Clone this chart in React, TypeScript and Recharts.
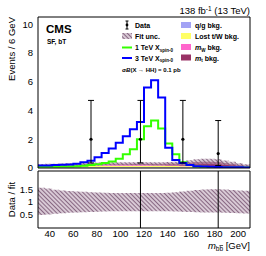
import React from 'react';
import { ComposedChart, Line, Area, Scatter, ErrorBar, XAxis, YAxis } from 'recharts';

// m_bb bins, 6 GeV wide
const binLow = [30, 36, 42, 48, 54, 60, 66, 72, 78, 84, 90, 96, 102, 108, 114, 120, 126, 132, 138, 144, 150, 156, 162, 168, 174, 180, 186, 192, 198, 204];
const binWidth = 6;

const qgBkg = [0.05, 0.05, 0.05, 0.05, 0.05, 0.05, 0.05, 0.05, 0.05, 0.05, 0.05, 0.05, 0.05, 0.05, 0.05, 0.05, 0.05, 0.05, 0.05, 0.05, 0.05, 0.05, 0.05, 0.05, 0.05, 0.05, 0.04, 0.04, 0.04, 0.04];
const lostTWBkg = [0.06, 0.07, 0.07, 0.08, 0.08, 0.09, 0.09, 0.1, 0.1, 0.1, 0.11, 0.11, 0.11, 0.11, 0.11, 0.1, 0.1, 0.1, 0.09, 0.09, 0.08, 0.08, 0.07, 0.07, 0.06, 0.06, 0.05, 0.05, 0.05, 0.04];
const mWBkg = [0.03, 0.03, 0.04, 0.04, 0.05, 0.05, 0.06, 0.06, 0.07, 0.07, 0.07, 0.06, 0.06, 0.05, 0.05, 0.05, 0.04, 0.04, 0.04, 0.03, 0.03, 0.03, 0.03, 0.02, 0.02, 0.02, 0.02, 0.02, 0.02, 0.02];
const mtBkg = [0.04, 0.04, 0.04, 0.05, 0.05, 0.05, 0.06, 0.06, 0.06, 0.07, 0.07, 0.07, 0.08, 0.08, 0.08, 0.09, 0.1, 0.11, 0.13, 0.15, 0.18, 0.22, 0.26, 0.29, 0.3, 0.28, 0.24, 0.18, 0.12, 0.08];

// relative fit uncertainty (data / fit band)
const fitUncLo = [0.5, 0.52, 0.55, 0.57, 0.59, 0.6, 0.61, 0.62, 0.63, 0.64, 0.65, 0.65, 0.65, 0.65, 0.65, 0.65, 0.65, 0.65, 0.65, 0.64, 0.63, 0.62, 0.61, 0.6, 0.6, 0.6, 0.59, 0.58, 0.57, 0.56];
const fitUncHi = [1.55, 1.52, 1.48, 1.45, 1.43, 1.41, 1.4, 1.38, 1.37, 1.36, 1.35, 1.35, 1.35, 1.35, 1.35, 1.35, 1.35, 1.35, 1.36, 1.38, 1.41, 1.44, 1.47, 1.49, 1.5, 1.5, 1.49, 1.47, 1.45, 1.44];

const signal1TeV = [0.08, 0.08, 0.09, 0.1, 0.11, 0.13, 0.16, 0.2, 0.26, 0.34, 0.45, 0.65, 0.95, 1.3, 2.0, 2.9, 3.3, 2.75, 1.7, 0.95, 0.4, 0.2, 0.1, 0.08, 0.06, 0.05, 0.05, 0.04, 0.04, 0.03];
const signal3TeV = [0.18, 0.18, 0.2, 0.22, 0.25, 0.3, 0.4, 0.5, 0.75, 1.05, 1.35, 1.75, 2.2, 2.7, 3.2, 5.6, 6.1, 4.9, 1.4, 0.55, 0.35, 0.2, 0.12, 0.1, 0.08, 0.07, 0.06, 0.05, 0.05, 0.04];

const dataMass = [75, 117, 153, 183];
const dataCount = [2, 2, 2, 1];
const dataErrLo = [1.65, 1.65, 1.65, 0.83];
const dataErrHi = [2.7, 2.7, 2.7, 2.3];

// data / fit points, only the error bars fall inside the panel
const ratioMass = [117, 183];
const ratioLo = [0, 0];
const ratioHi = [2.2, 2.2];

const xMajor = [40, 60, 80, 100, 120, 140, 160, 180, 200];
const xMinor = Array.from({ length: 45 }, (_, i) => 32 + i * 4);
const mainMajor = [0, 2, 4, 6, 8, 10];
const mainMinor = Array.from({ length: 22 }, (_, i) => i * 0.5);
const ratioMajor = [0.5, 1, 1.5];
const ratioMinor = Array.from({ length: 23 }, (_, i) => i / 10);

const edges = [...binLow, binLow[binLow.length - 1] + binWidth];
const stepRows = edges.map((x, i) => {
  const k = Math.min(i, binLow.length - 1);
  const total = qgBkg[k] + lostTWBkg[k] + mWBkg[k] + mtBkg[k];
  return {
    x,
    qg: qgBkg[k],
    lost: lostTWBkg[k],
    mw: mWBkg[k],
    mt: mtBkg[k],
    unc: [total * fitUncLo[k], total * fitUncHi[k]],
    band: [fitUncLo[k], fitUncHi[k]],
    s1: signal1TeV[k],
    s3: signal3TeV[k],
  };
});

const dataPoints = dataMass.map((x, i) => ({ x, y: dataCount[i], err: [dataErrLo[i], dataErrHi[i]] }));
const ratioPoints = ratioMass.map((x, i) => ({
  x,
  y: (ratioLo[i] + ratioHi[i]) / 2,
  err: [(ratioHi[i] - ratioLo[i]) / 2, (ratioHi[i] - ratioLo[i]) / 2],
}));

const FONT = '"Liberation Sans", Arial, Helvetica, sans-serif';
const X_DOMAIN: [number, number] = [30, 210];
const tickFont = { fontSize: 9.5, fill: '#000', fontFamily: FONT };

// inward ROOT-style ticks on all four sides; labelX puts the numbers on the primary x axis
function frameAxes(yMajor: number[], yMinor: number[], yDomain: [number, number], labelX: boolean) {
  const c = { allowDataOverflow: true, tick: false as const, stroke: '#000', interval: 0 as const, mirror: true };
  const primaryX = labelX ? (
    <XAxis key="x" xAxisId="x" dataKey="x" type="number" domain={X_DOMAIN} ticks={xMajor} height={20} tickLine={false} axisLine={false} tickSize={0} tickMargin={2} tick={tickFont} interval={0} allowDataOverflow />
  ) : (
    <XAxis key="x" xAxisId="x" dataKey="x" type="number" domain={X_DOMAIN} ticks={xMajor} tickSize={5} {...c} />
  );
  const axes = [
    primaryX,
    <XAxis key="xbm" xAxisId="xbm" dataKey="x" type="number" domain={X_DOMAIN} ticks={xMinor} tickSize={2.5} axisLine={false} {...c} />,
    <XAxis key="xt" xAxisId="xt" dataKey="x" orientation="top" type="number" domain={X_DOMAIN} ticks={xMajor} tickSize={5} {...c} />,
    <XAxis key="xtm" xAxisId="xtm" dataKey="x" orientation="top" type="number" domain={X_DOMAIN} ticks={xMinor} tickSize={2.5} axisLine={false} {...c} />,
    <YAxis key="yl" yAxisId="y" type="number" domain={yDomain} ticks={yMajor} tickSize={5} {...c} />,
    <YAxis key="ylm" yAxisId="ylm" type="number" domain={yDomain} ticks={yMinor} tickSize={2.5} axisLine={false} {...c} />,
    <YAxis key="yr" yAxisId="yr" orientation="right" type="number" domain={yDomain} ticks={yMajor} tickSize={5} {...c} />,
    <YAxis key="yrm" yAxisId="yrm" orientation="right" type="number" domain={yDomain} ticks={yMinor} tickSize={2.5} axisLine={false} {...c} />,
  ];
  if (labelX) {
    axes.push(<XAxis key="xbM" xAxisId="xbM" dataKey="x" type="number" domain={X_DOMAIN} ticks={xMajor} tickSize={5} {...c} />);
  }
  return axes;
}

const hatchDefs = (
  <defs>
    <pattern id="hatch" patternUnits="userSpaceOnUse" width="3" height="3" patternTransform="rotate(-45)">
      <rect width="3" height="3" fill="rgba(190,165,185,0.6)" />
      <line x1="0" y1="0" x2="0" y2="3" stroke="#7e5c79" strokeWidth="1.8" />
    </pattern>
  </defs>
);

const DataDot = (p: any) => <circle cx={p.cx} cy={p.cy} r={1.6} fill="#000" />;
const NoDot = () => <g />;

export default function App() {
  return (
    <div style={{ position: 'absolute', left: 0, top: 0, width: 266, height: 256, background: '#fff', fontFamily: FONT }}>
      <div style={{ position: 'absolute', left: 0, top: 0 }}>
        <ComposedChart width={266} height={256} data={stepRows} margin={{ top: 17, right: 16, bottom: 88, left: 0 }}>
          {hatchDefs}
          <YAxis yAxisId="ylab" type="number" domain={[0, 10.5]} ticks={mainMajor} width={38} tickLine={false} axisLine={false} tickSize={0} tickMargin={5} tick={tickFont} interval={0} allowDataOverflow />
          {frameAxes(mainMajor, mainMinor, [0, 10.5], false)}
          <Area xAxisId="x" yAxisId="y" type="stepAfter" dataKey="qg" stackId="bkg" stroke="none" fill="#a3a3f5" fillOpacity={1} isAnimationActive={false} />
          <Area xAxisId="x" yAxisId="y" type="stepAfter" dataKey="lost" stackId="bkg" stroke="none" fill="#ffff66" fillOpacity={1} isAnimationActive={false} />
          <Area xAxisId="x" yAxisId="y" type="stepAfter" dataKey="mw" stackId="bkg" stroke="none" fill="#ff66cc" fillOpacity={1} isAnimationActive={false} />
          <Area xAxisId="x" yAxisId="y" type="stepAfter" dataKey="mt" stackId="bkg" stroke="none" fill="#993366" fillOpacity={1} isAnimationActive={false} />
          <Area xAxisId="x" yAxisId="y" type="stepAfter" dataKey="unc" stroke="none" fill="url(#hatch)" fillOpacity={1} isAnimationActive={false} />
          <Line xAxisId="x" yAxisId="y" type="stepAfter" dataKey="s1" stroke="#33ff00" strokeWidth={2} dot={false} isAnimationActive={false} />
          <Line xAxisId="x" yAxisId="y" type="stepAfter" dataKey="s3" stroke="#0000ff" strokeWidth={2} dot={false} isAnimationActive={false} />
          <Scatter xAxisId="x" yAxisId="y" data={dataPoints} dataKey="y" shape={DataDot} isAnimationActive={false}>
            <ErrorBar dataKey="err" direction="y" width={3} stroke="#000" strokeWidth={1} isAnimationActive={false} />
          </Scatter>
        </ComposedChart>
      </div>
      <div style={{ position: 'absolute', left: 0, top: 0 }}>
        <ComposedChart width={266} height={256} data={stepRows} margin={{ top: 171, right: 16, bottom: 8, left: 0 }}>
          {hatchDefs}
          <YAxis yAxisId="ylab" type="number" domain={[0, 2.2]} ticks={ratioMajor} width={38} tickLine={false} axisLine={false} tickSize={0} tickMargin={5} tick={tickFont} interval={0} allowDataOverflow />
          {frameAxes(ratioMajor, ratioMinor, [0, 2.2], true)}
          <Area xAxisId="x" yAxisId="y" type="stepAfter" dataKey="band" stroke="none" fill="url(#hatch)" fillOpacity={1} isAnimationActive={false} />
          <Scatter xAxisId="x" yAxisId="y" data={ratioPoints} dataKey="y" shape={NoDot} isAnimationActive={false}>
            <ErrorBar dataKey="err" direction="y" width={0} stroke="#000" strokeWidth={1} isAnimationActive={false} />
          </Scatter>
        </ComposedChart>
      </div>
      <svg width={266} height={256} style={{ position: 'absolute', left: 0, top: 0 }} fontFamily={FONT}>
        <text x={250} y={14} textAnchor="end" fontSize={9.5}>
          138 fb<tspan dy={-3.5} fontSize={6.5}>-1</tspan>
          <tspan dy={3.5}> (13 TeV)</tspan>
        </text>
        <text x={46} y={33} fontSize={11.5} fontWeight="bold">CMS</text>
        <text x={47} y={44} fontSize={6.5} fontWeight="bold">SF, bT</text>

        {/* legend, left column */}
        <line x1={127} y1={21} x2={127} y2={29} stroke="#000" />
        <line x1={125.5} y1={21} x2={128.5} y2={21} stroke="#000" />
        <line x1={125.5} y1={29} x2={128.5} y2={29} stroke="#000" />
        <circle cx={127} cy={25} r={1.4} fill="#000" />
        <rect x={122} y={33} width={10} height={6} fill="url(#hatch)" />
        <line x1={122} y1={47.5} x2={132} y2={47.5} stroke="#33ff00" strokeWidth={2} />
        <line x1={122} y1={58} x2={132} y2={58} stroke="#0000ff" strokeWidth={2} />
        <g fontSize={7} fontWeight="bold">
          <text x={135} y={28}>Data</text>
          <text x={135} y={39}>Fit unc.</text>
          <text x={135} y={50}>1 TeV X<tspan dy={1.5} fontSize={4.5}>spin-0</tspan></text>
          <text x={135} y={60.5}>3 TeV X<tspan dy={1.5} fontSize={4.5}>spin-0</tspan></text>
        </g>
        {/* legend, right column */}
        <rect x={181} y={22} width={10} height={6} fill="#a3a3f5" />
        <rect x={181} y={33} width={10} height={6} fill="#ffff66" />
        <rect x={181} y={44} width={10} height={6} fill="#ff66cc" />
        <rect x={181} y={54.5} width={10} height={6} fill="#993366" />
        <g fontSize={7} fontWeight="bold">
          <text x={195} y={28}>q/g bkg.</text>
          <text x={195} y={39}>Lost t/W bkg.</text>
          <text x={195} y={50}><tspan fontStyle="italic">m</tspan><tspan dy={1.5} fontSize={4.5}>W</tspan><tspan dy={-1.5}> bkg.</tspan></text>
          <text x={195} y={60.5}><tspan fontStyle="italic">m</tspan><tspan dy={1.5} fontSize={4.5}>t</tspan><tspan dy={-1.5}> bkg.</tspan></text>
        </g>
        <text x={122} y={72} fontSize={6} fontWeight="bold">
          σ<tspan fontStyle="italic">B</tspan>(X → HH) = 0.1 pb
        </text>

        <text transform="translate(15,17) rotate(-90)" textAnchor="end" fontSize={9.5}>Events / 6 GeV</text>
        <text transform="translate(15,199.5) rotate(-90)" textAnchor="middle" fontSize={9.5}>Data / fit</text>
        <text x={250} y={249} textAnchor="end" fontSize={9.5}>
          <tspan fontStyle="italic">m</tspan>
          <tspan dy={2} fontSize={6.5}>b</tspan>
          <tspan fontSize={6.5} textDecoration="overline">b</tspan>
          <tspan dy={-2}> [GeV]</tspan>
        </text>
      </svg>
    </div>
  );
}
